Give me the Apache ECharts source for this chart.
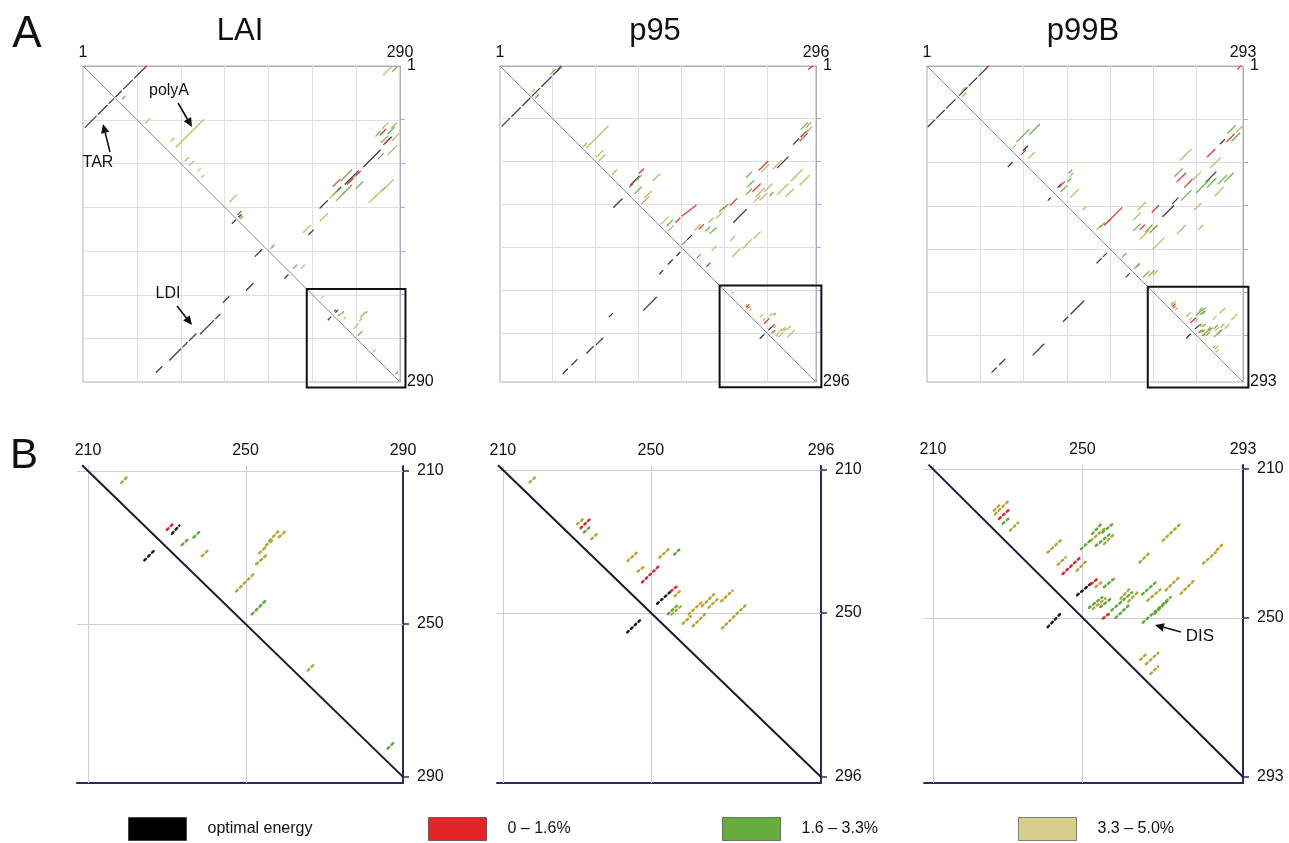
<!DOCTYPE html>
<html><head><meta charset="utf-8">
<script src="https://cdn.jsdelivr.net/npm/echarts@6/dist/echarts.min.js"></script>
<style>html,body{margin:0;padding:0;background:#fff}#c{width:1289px;height:843px}</style>
</head><body><div id="c"></div>
<script>
// ---------------- DATA ----------------
// Sequence lengths
const LAI_N = 290, P95_N = 296, P99B_N = 293;
// tick labels
const overviewTicksLAI = [1, 290], overviewTicksP95 = [1, 296], overviewTicksP99B = [1, 293];
const overviewGridLines = [50, 90, 130, 170, 210, 250];
const zoomTicksLAI = [210, 250, 290], zoomTicksP95 = [210, 250, 296], zoomTicksP99B = [210, 250, 293];
const zoomGridLines = [210, 250];
const zoomBoxLAI = [205, 295], zoomBoxP95 = [206, 301], zoomBoxP99B = [205, 298];
const categoryNames = ['optimal energy', '0 – 1.6%', '1.6 – 3.3%', '3.3 – 5.0%'];

// helices as [x1, y1, x2, y2] (x = column base, y = row base)
// ---- LAI overview (outside the 210-290 window)
const laiOptimal = [[3,57,13,47],[15,45,23,37],[25,35,29,31],[31,29,36,24],[38,22,46,14],[48,12,58,2],
  [68,281,73,276],[80,270,90,260],[92,258,96,254],[98,252,104,246],[108,246,120,234],[122,232,126,228],[129,217,134,212],[150,206,156,200],
  [137,145,140,142],[158,175,164,169],[185,195,188,192],
  [217,131,224,124],[229,119,236,112],[240,109,252,97],[257,93,272,78],[276,72,282,66],[207,155,211,151],[173,167,175,165],[143,139,145,137]];
const laiRed = [[56,4,59,1],[142,137,145,134],[229,111,235,105],[242,109,247,104],[250,101,254,97],[272,64,277,59],[275,73,280,68]];
const laiGreen = [[37,31,39,29],[144,140,146,138],[193,186,196,183],[232,124,240,116],[236,106,246,96],[238,118,246,110],[250,113,256,107],[270,86,275,81],[279,63,285,57],[273,71,279,65],[268,65,272,61],[283,6,287,2]];
const laiTan = [[275,9,282,2],[58,53,62,49],[81,70,84,67],[86,75,111,50],[94,88,97,85],[98,92,102,88],[106,97,108,95],[109,103,111,101],[135,125,141,119],[145,141,147,139],[172,168,175,165],[200,186,203,183],[202,153,208,147],[217,143,224,136],
  [226,122,232,116],[245,106,253,98],[262,126,269,119],[267,121,276,112],[274,115,284,105],[279,82,287,74],[274,58,279,53],[282,58,287,53],[283,69,289,63]];
// ---- LAI 210-290 window
const laiZoomOptimal = [[231.5,226.2,233,224.5],[224.5,233.2,226.8,230.8]];
const laiZoomRed = [[230.2,225.2,231.4,224]];
const laiZoomGreen = [[234,229.2,235.6,227.7],[237,227.2,238.5,225.7],[251.8,247.3,255.2,243.8],[286.3,282.4,287.7,281]];
const laiZoomTan = [[218.6,212.9,219.6,211.9],[239.1,232.1,240.4,230.8],[247.8,241.3,252.1,236.9],[252.9,234.2,255.1,232.2],[253.7,231.3,255.2,229.8],[255.4,229.3,257.1,227.9],[256.2,228.1,258.2,225.9],[258.7,227.1,260.2,225.7],[266,262,267.3,260.7]];

// ---- p95 overview
const p95Optimal = [[3,57,10,50],[12,48,20,40],[22,38,29,31],[31,29,38,22],[40,20,49,11],[51,9,58,2],
  [60,288,64,284],[68,280,73,275],[82,269,88,263],[91,261,97,255],[103,235,106,232],[135,229,147,217],[150,195,153,192],[158,186,162,182],[166,178,169,175],[107,133,115,125],
  [123,112,131,104],[219,147,231,135],[260,96,270,86],[275,74,280,69],[282,67,287,62],[176,163,180,159]];
const p95Red = [[55,4,58,1],[131,101,135,97],[122,114,125,111],[171,141,184,131],[165,147,169,143],[187,153,191,149],[216,131,222,125],[237,118,244,111],[243,98,251,90],[281,71,288,64],[289,4,293,1],[194,188,197,185]];
const p95Green = [[50,7,53,4],[34,31,37,28],[128,108,133,103],[127,120,133,114],[157,150,162,145],[193,155,197,151],[197,157,203,152],[206,137,210,133],[171,168,175,164],[185,180,188,177],[231,105,236,100],[232,114,238,108],[231,121,236,116],[253,122,256,119],[282,60,288,54],[287,58,291,54],[210,134,213,131]];
const p95Tan = [[48,9,50,7],[31,25,33,23],[82,77,102,57],[79,76,82,73],[91,86,97,80],[94,89,99,84],[106,102,110,98],[133,130,140,123],[136,124,142,118],[144,108,150,102],[152,148,158,142],[158,155,163,150],[183,154,188,149],[196,147,200,143],[203,143,208,138],[199,173,203,169],[216,164,220,160],[218,179,225,172],[228,171,236,163],[238,162,244,156],[209,135,214,130],[240,123,248,115],[238,128,244,122],[245,100,252,93],[248,118,255,111],[244,126,250,120],[256,97,264,89],[260,121,270,111],[273,108,283,98],[268,123,275,116],[281,112,290,103],[284,66,290,60],[288,62,292,58]];
// ---- p95 210-296 window
const p95ZoomOptimal = [[251.9,247.3,255.2,244.2],[243.8,255.3,247.4,251.8]];
const p95ZoomRed = [[231.2,226.1,233.4,223.9],[247.8,241.3,252.1,237],[255.6,243.8,257.2,242.5]];
const p95ZoomGreen = [[232.1,227.3,233.6,225.9],[256.5,233.5,258.1,231.9],[254.8,250.2,257.3,247.8]];
const p95ZoomTan = [[217.4,213.3,218.8,212],[230.3,225,231.5,223.9],[234.1,229.2,235.5,227.9],[243.9,235.3,246.4,233],[246.6,238.3,248.3,237],[252.5,234.4,255.1,231.9],[256.6,245.2,257.9,243.9],[255.8,250.3,258,248.3],[258.8,252.9,260.6,251.2],[260.4,250.3,264,246.8],[261.5,253.6,264.9,250.1],[264,248,266.9,245],[265.8,248.4,267.8,246.4],[269.2,246.6,271.9,244],[269.4,254.2,275.7,247.8]];

// ---- p99B overview
const p99bOptimal = [[2,57,8,51],[10,49,17,42],[19,40,27,32],[31,28,38,21],[40,19,47,12],[49,10,57,2],
  [61,284,65,280],[68,277,73,272],[99,268,109,258],[127,237,131,233],[134,230,146,218],[76,94,80,90],[113,125,115,123],[158,183,162,179],[164,177,167,174],[185,196,188,193],
  [90,79,94,75],[219,140,229,130],[259,108,268,99],[272,73,276,69],[228,128,233,123],[122,113,125,110],[195,186,197,184]];
const p99bRed = [[56,3,58,1],[288,4,291,1],[88,83,92,79],[123,113,128,108],[165,148,170,143],[168,145,181,132],[209,136,215,130],[198,152,202,148],[260,85,267,78],[232,108,240,100],[239,113,246,106],[278,71,285,64]];
const p99bGreen = [[34,29,37,26],[84,71,95,60],[96,64,105,55],[131,108,134,105],[132,100,135,97],[125,117,130,112],[161,150,165,146],[182,177,185,174],[193,188,197,184],[201,196,206,191],[206,195,211,190],[192,153,198,147],[203,154,209,148],[207,155,213,149],[230,103,237,96],[250,118,262,106],[260,113,268,105],[270,110,278,102],[276,108,284,100],[236,125,245,116],[279,63,286,56],[283,70,290,63]];
const p99bTan = [[33,24,36,21],[80,77,83,74],[95,86,100,81],[133,103,136,100],[134,122,141,115],[145,134,148,131],[158,152,162,148],[210,194,214,190],[196,134,203,127],[192,143,198,137],[210,152,214,148],[198,161,206,153],[210,170,220,160],[232,156,240,148],[252,152,256,148],[235,88,245,78],[263,95,272,86],[247,106,254,99],[267,121,275,113],[248,134,254,128],[287,62,292,57]];
// ---- p99B 210-293 window
const p99bZoomOptimal = [[248.8,243.8,252.1,241],[240.9,252.4,244.3,248.8]];
const p99bZoomRed = [[227.9,223.2,230.4,220.9],[244.9,238.1,249.2,234],[252.5,240.8,254,239.6],[255.7,250.1,257.5,248.7]];
const p99bZoomGreen = [[228.9,224.5,230.6,223],[249.8,231.4,252.5,228.9],[252.8,227.3,255.2,224.6],[255.6,226.9,258.3,224.6],[253.8,230.5,257,227.8],[256,241.6,258.2,239.8],[252,247.2,255.1,244.7],[255,247,257.5,245],[258,247.9,263.1,243.4],[259.1,249.9,262.2,246.9],[266.2,243.6,269.4,240.7],[266.4,251.2,273.4,244.7],[269.5,248.8,273,245.3]];
const p99bZoomTan = [[226.8,222,230.4,218.4],[226.5,221,228,219.5],[230.8,226.4,232.6,224.6],[240.9,232.3,244.5,228.9],[243.6,235.6,245.3,234],[248.7,237.2,251.2,234.6],[252.5,229.1,255.6,226.3],[256,230,258.5,227.5],[253.7,241.6,255.5,240.2],[253,247.5,256,245],[260.4,244.7,262.7,242.2],[262.5,245.5,265,243],[267.6,245.3,270.7,242.6],[272.5,242.5,275.5,239.5],[276.5,243.4,280.1,239.8],[271.7,229.1,276.3,224.7],[265.5,235,268.1,232.4],[282.5,235.3,285.5,232.6],[286.2,231.6,287.6,230.2],[265.7,261.2,267.2,259.7],[267.2,262.4,270.1,259.7],[268.4,265,270.1,263.4]];

// ---------------- STYLE / LAYOUT ----------------
const FONT = '"Liberation Sans", Arial, Helvetica, sans-serif';
const CAT_COLORS = ['#1c1c1c', '#e2262b', '#5dab3d', '#bba33a'];
const OVERVIEW_COLORS = ['#3a3a3a', '#e03a34', '#6cb04e', '#c6b564'];
const LEGEND_COLORS = ['#000000', '#e42526', '#66ad3f', '#d7cd8c'];
const FRAME = '#aeacc2', GRIDC = '#e0dfe6', NAVY = '#2c2b5a';

const overviewPanels = [
  {n: LAI_N, ticks: overviewTicksLAI, box: zoomBoxLAI, grid: {left: 83, top: 66, width: 317, height: 316},
   cats: [laiOptimal.concat(laiZoomOptimal), laiRed.concat(laiZoomRed), laiGreen.concat(laiZoomGreen), laiTan.concat(laiZoomTan)]},
  {n: P95_N, ticks: overviewTicksP95, box: zoomBoxP95, grid: {left: 500, top: 66, width: 316, height: 316},
   cats: [p95Optimal.concat(p95ZoomOptimal), p95Red.concat(p95ZoomRed), p95Green.concat(p95ZoomGreen), p95Tan.concat(p95ZoomTan)]},
  {n: P99B_N, ticks: overviewTicksP99B, box: zoomBoxP99B, grid: {left: 927, top: 66, width: 316, height: 316},
   cats: [p99bOptimal.concat(p99bZoomOptimal), p99bRed.concat(p99bZoomRed), p99bGreen.concat(p99bZoomGreen), p99bTan.concat(p99bZoomTan)]}
];
const zoomPanels = [
  {n: LAI_N, ticks: zoomTicksLAI, xMin: 207.2, yMin: 208.7, yMax: 291.6, diag0: 208.5, grid: {left: 77, top: 466, width: 326, height: 317},
   cats: [laiZoomOptimal, laiZoomRed, laiZoomGreen, laiZoomTan]},
  {n: P95_N, ticks: zoomTicksP95, xMin: 208.4, yMin: 208.9, yMax: 297.7, diag0: 208.7, grid: {left: 497, top: 466, width: 324, height: 317},
   cats: [p95ZoomOptimal, p95ZoomRed, p95ZoomGreen, p95ZoomTan]},
  {n: P99B_N, ticks: zoomTicksP99B, xMin: 207.6, yMin: 208.9, yMax: 294.6, diag0: 208.8, grid: {left: 924, top: 465, width: 319, height: 318},
   cats: [p99bZoomOptimal, p99bZoomRed, p99bZoomGreen, p99bZoomTan]}
];

// ---------------- RENDERERS ----------------
function segRenderer(color, dotted, lw) {
  return function (params, api) {
    const a = api.coord([api.value(0), api.value(1)]);
    const b = api.coord([api.value(2), api.value(3)]);
    const sz = api.size([1, 1]);
    const step = Math.hypot(sz[0], sz[1]);
    const dx = b[0] - a[0], dy = b[1] - a[1];
    const len = Math.hypot(dx, dy);
    let ux = Math.SQRT1_2, uy = -Math.SQRT1_2;
    if (len > 0.01) { ux = dx / len; uy = dy / len; }
    if (dotted) {
      const dash = Math.max(step * 0.86 - lw, 0.8);
      const gap = step - dash;
      const e = dash / 2;
      return {type: 'line', shape: {x1: a[0] - ux * e, y1: a[1] - uy * e, x2: b[0] + ux * e, y2: b[1] + uy * e},
        style: {stroke: color, lineWidth: lw, lineDash: [dash, gap], lineCap: 'round', fill: null}};
    }
    const e = step * 0.35;
    return {type: 'line', shape: {x1: a[0] - ux * e, y1: a[1] - uy * e, x2: b[0] + ux * e, y2: b[1] + uy * e},
      style: {stroke: color, lineWidth: lw, lineCap: 'butt', fill: null}};
  };
}
function lineRenderer(color, lw) {
  return function (params, api) {
    const a = api.coord([api.value(0), api.value(1)]);
    const b = api.coord([api.value(2), api.value(3)]);
    return {type: 'line', shape: {x1: a[0], y1: a[1], x2: b[0], y2: b[1]}, style: {stroke: color, lineWidth: lw, fill: null}};
  };
}
function gridRenderer(color) {
  return function (params, api) {
    const cs = params.coordSys;
    const p = api.coord([api.value(0), api.value(1)]);
    const x = Math.round(p[0]) + 0.5, y = Math.round(p[1]) + 0.5;
    return {type: 'group', children: [
      {type: 'line', shape: {x1: x, y1: cs.y, x2: x, y2: cs.y + cs.height}, style: {stroke: color, lineWidth: 1}},
      {type: 'line', shape: {x1: cs.x, y1: y, x2: cs.x + cs.width, y2: y}, style: {stroke: color, lineWidth: 1}}
    ]};
  };
}
function rectRenderer(params, api) {
  const a = api.coord([api.value(0), api.value(0)]);
  const b = api.coord([api.value(1), api.value(1)]);
  return {type: 'rect', shape: {x: a[0], y: a[1], width: b[0] - a[0], height: b[1] - a[1]},
    style: {stroke: '#111', lineWidth: 2, fill: null}};
}

// ---------------- OPTION ----------------
const grids = [], xAxes = [], yAxes = [], series = [];
const labelStyle = {fontSize: 16, color: '#111', fontFamily: FONT};

overviewPanels.forEach((p, i) => {
  grids.push(Object.assign({show: true, borderColor: FRAME, borderWidth: 1, backgroundColor: 'transparent'}, p.grid));
  xAxes.push({gridIndex: i, type: 'value', position: 'top', min: 1, max: p.n,
    axisLine: {show: true, onZero: false, lineStyle: {color: FRAME, width: 1}}, axisTick: {show: false}, splitLine: {show: false},
    axisLabel: Object.assign({customValues: p.ticks, margin: 5}, labelStyle)});
  yAxes.push({gridIndex: i, type: 'value', position: 'right', inverse: true, min: 1, max: p.n,
    axisLine: {show: true, onZero: false, lineStyle: {color: FRAME, width: 1}},
    axisTick: {show: true, customValues: overviewGridLines, length: 5, lineStyle: {color: FRAME}}, splitLine: {show: false},
    axisLabel: Object.assign({customValues: p.ticks, margin: 7}, labelStyle)});
  series.push({type: 'custom', xAxisIndex: i, yAxisIndex: i, silent: true, z: 1, clip: false,
    data: overviewGridLines.map(v => [v, v]), renderItem: gridRenderer(GRIDC)});
  series.push({type: 'custom', xAxisIndex: i, yAxisIndex: i, silent: true, z: 2, clip: false,
    data: [[1, 1, p.n, p.n]], renderItem: lineRenderer('#8d8aa6', 1)});
  p.cats.forEach((arr, c) => {
    series.push({type: 'custom', name: categoryNames[c], xAxisIndex: i, yAxisIndex: i, silent: true, z: 3 + (c === 0 ? 0 : 4 - c), clip: false,
      itemStyle: {color: CAT_COLORS[c]}, data: arr, renderItem: segRenderer(OVERVIEW_COLORS[c], false, 1.25)});
  });
  series.push({type: 'custom', xAxisIndex: i, yAxisIndex: i, silent: true, z: 8, clip: false,
    data: [p.box], renderItem: rectRenderer});
});

zoomPanels.forEach((p, k) => {
  const gi = 3 + k;
  grids.push(Object.assign({show: false}, p.grid));
  xAxes.push({gridIndex: gi, type: 'value', position: 'top', min: p.xMin, max: p.n,
    axisLine: {show: false}, axisTick: {show: false}, splitLine: {show: false},
    axisLabel: Object.assign({customValues: p.ticks, margin: 7}, labelStyle)});
  yAxes.push({gridIndex: gi, type: 'value', position: 'right', inverse: true, min: p.yMin, max: p.yMax,
    axisLine: {show: true, onZero: false, lineStyle: {color: NAVY, width: 2}},
    axisTick: {show: true, customValues: p.ticks, length: 6, lineStyle: {color: NAVY, width: 1.5}}, splitLine: {show: false},
    axisLabel: Object.assign({customValues: p.ticks, margin: 14}, labelStyle)});
  series.push({type: 'custom', xAxisIndex: gi, yAxisIndex: gi, silent: true, z: 1, clip: false,
    data: zoomGridLines.map(v => [v, v]), renderItem: gridRenderer('#cfcfd3')});
  series.push({type: 'custom', xAxisIndex: gi, yAxisIndex: gi, silent: true, z: 2, clip: false,
    data: [[p.diag0, p.diag0, p.n, p.n]], renderItem: lineRenderer('#1b1a36', 2)});
  p.cats.forEach((arr, c) => {
    series.push({type: 'custom', name: categoryNames[c], xAxisIndex: gi, yAxisIndex: gi, silent: true, z: 3 + (c === 0 ? 0 : 4 - c), clip: false,
      itemStyle: {color: CAT_COLORS[c]}, data: arr, renderItem: segRenderer(CAT_COLORS[c], true, 2.5)});
  });
});
// bottom frame lines of zoom panels
zoomPanels.forEach((p, k) => {
  xAxes.push({gridIndex: 3 + k, type: 'value', position: 'bottom', min: p.xMin, max: p.n,
    axisLine: {show: true, onZero: false, lineStyle: {color: NAVY, width: 2}}, axisTick: {show: false},
    axisLabel: {show: false}, splitLine: {show: false}});
});

const legendLeft = [128, 428, 722, 1018];
const legends = categoryNames.map((name, i) => ({
  left: legendLeft[i], top: 817, padding: 0, icon: 'rect', itemWidth: 58, itemHeight: 23, selectedMode: false,
  data: [{name: name, itemStyle: {color: LEGEND_COLORS[i], borderColor: 'rgba(0,0,0,0.45)', borderWidth: 1}}],
  textStyle: {fontSize: 16, color: '#111', fontFamily: FONT, padding: [0, 0, 0, 16]}
}));

// annotations
const graphics = [];
function txt(text, x, y, size) {
  graphics.push({type: 'text', x: x, y: y, silent: true, z: 20,
    style: {text: text, fontSize: size, fontFamily: FONT, fill: '#111', textAlign: 'center', textVerticalAlign: 'middle'}});
}
function arrow(x1, y1, x2, y2) {
  const dx = x2 - x1, dy = y2 - y1, L = Math.hypot(dx, dy), ux = dx / L, uy = dy / L;
  const hl = 9, hw = 4.2, bx = x2 - ux * hl, by = y2 - uy * hl;
  graphics.push({type: 'line', silent: true, z: 20, shape: {x1: x1, y1: y1, x2: bx, y2: by}, style: {stroke: '#111', lineWidth: 1.6}});
  graphics.push({type: 'polygon', silent: true, z: 20, shape: {points: [[x2, y2], [bx - uy * hw, by + ux * hw], [bx + uy * hw, by - ux * hw]]}, style: {fill: '#111'}});
}
txt('A', 27, 35, 44); txt('B', 24, 456, 42);
txt('LAI', 240, 31, 31); txt('p95', 655, 31, 31); txt('p99B', 1083, 31, 31);
txt('TAR', 98, 163, 16); arrow(110, 152, 103, 124);
txt('polyA', 169, 91, 16); arrow(178, 103, 192, 127);
txt('LDI', 168, 294, 16); arrow(177, 306, 192, 325);
txt('DIS', 1200, 636, 17); arrow(1181, 632, 1155, 625);

const chart = echarts.init(document.getElementById('c'), null, {renderer: 'canvas'});
chart.setOption({
  backgroundColor: '#ffffff', animation: false,
  grid: grids, xAxis: xAxes, yAxis: yAxes, series: series, legend: legends, graphic: graphics
});
</script></body></html>
